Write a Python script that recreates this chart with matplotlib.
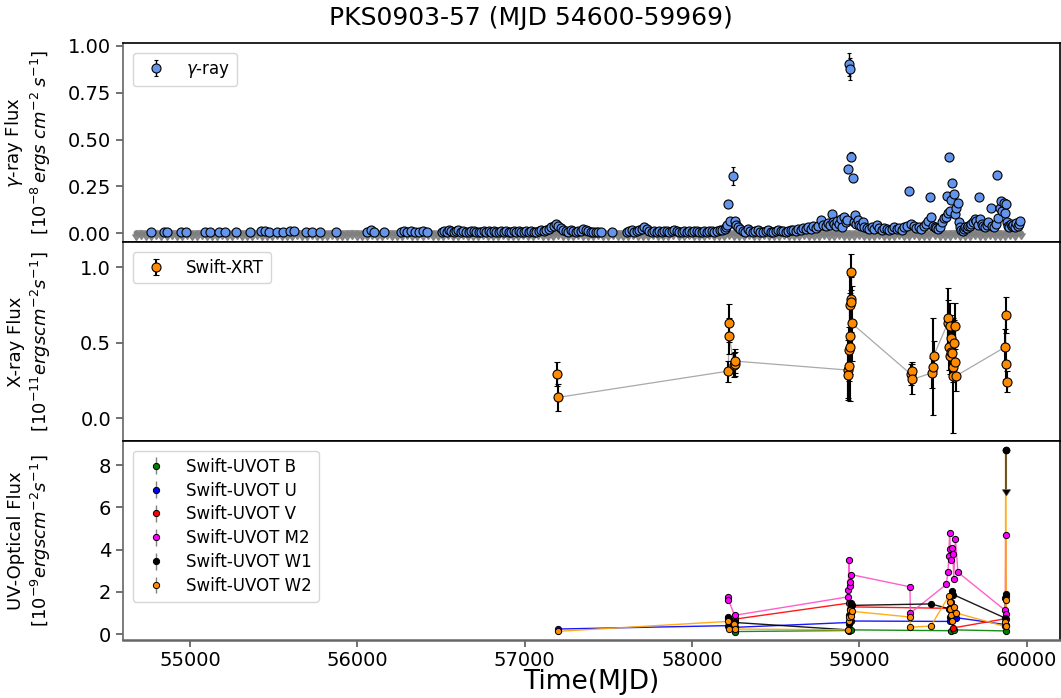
import matplotlib
matplotlib.use("Agg")
import matplotlib.pyplot as plt
import numpy as np

# ---------------- gamma-ray (Fermi-LAT) ----------------
gamma_mjd = [
    54767, 54844, 54862, 54946, 54976, 55090, 55120, 55173, 55209, 55275,
    55359, 55425, 55449, 55473, 55520, 55556, 55598, 55622, 55694, 55730,
    55778, 55873, 56059, 56080, 56100, 56160, 56262, 56280, 56300, 56320,
    56345, 56370, 56390, 56417,
    56507, 56520, 56535, 56550, 56562, 56578, 56592, 56605, 56620, 56635,
    56650, 56665, 56680, 56695, 56710, 56725, 56740, 56755, 56770, 56785,
    56800, 56815, 56830, 56845, 56860, 56875, 56890, 56905, 56920, 56935,
    56950, 56965, 56980, 56995, 57010, 57025, 57040, 57055, 57070, 57085,
    57100, 57115, 57130, 57145, 57160, 57175, 57189, 57200, 57215, 57230,
    57245, 57260, 57275, 57290, 57305, 57320, 57335, 57350, 57365, 57380,
    57395, 57410, 57425, 57440, 57455, 57524,
    57610, 57625, 57640, 57655, 57670, 57685, 57700, 57715, 57730, 57745,
    57760, 57775, 57790, 57805, 57820, 57835, 57850, 57865, 57880, 57895,
    57910, 57925, 57940, 57955, 57970, 57985, 58000, 58015, 58030, 58045,
    58060, 58075, 58090, 58105, 58120, 58135, 58150, 58165, 58180, 58195,
    58205, 58212, 58218, 58230, 58248, 58258, 58265, 58275, 58290, 58305,
    58320, 58335, 58350, 58365, 58380, 58395, 58410, 58425, 58440, 58455,
    58470, 58485, 58500, 58515, 58530, 58545, 58560, 58575, 58590, 58605,
    58620, 58635, 58650, 58665, 58680, 58695, 58710, 58725, 58740, 58755,
    58772, 58785, 58800, 58815, 58825, 58836, 58842, 58850, 58860, 58870,
    58880, 58890, 58900, 58911, 58920, 58928, 58935, 58937, 58944, 58951,
    58961, 58968, 58975, 58982, 58991, 59000, 59010, 59021, 59030, 59045,
    59060, 59075, 59090, 59107, 59120, 59135, 59150, 59165, 59180, 59195,
    59210, 59225, 59240, 59255, 59270, 59285, 59296, 59310, 59325, 59340,
    59355, 59370, 59385, 59400, 59410, 59424, 59430, 59440, 59450, 59460,
    59470, 59480, 59496, 59509, 59518, 59526, 59529, 59535, 59542, 59550,
    59556, 59565, 59572, 59579, 59589, 59595, 59602, 59610, 59618, 59626,
    59634, 59642, 59650, 59660, 59670, 59680, 59690, 59700, 59708, 59715,
    59723, 59732, 59742, 59752, 59762, 59772, 59785, 59795, 59805, 59815,
    59823, 59831, 59839, 59849, 59856, 59863, 59869, 59875, 59882, 59890,
    59898, 59906, 59914, 59922, 59930, 59938, 59946, 59954, 59962,
]
gamma_flux = [
    0.006, 0.008, 0.006, 0.007, 0.007, 0.005, 0.007, 0.006, 0.008, 0.005,
    0.006, 0.010, 0.009, 0.008, 0.006, 0.005, 0.009, 0.011, 0.004, 0.005,
    0.006, 0.006, 0.005, 0.014, 0.008, 0.005, 0.006, 0.012, 0.008, 0.010,
    0.006, 0.007, 0.009, 0.006,
    0.008, 0.012, 0.006, 0.015, 0.010, 0.005, 0.009, 0.018, 0.007, 0.011,
    0.006, 0.004, 0.009, 0.013, 0.006, 0.008, 0.004, 0.010, 0.007, 0.012,
    0.005, 0.009, 0.006, 0.004, 0.011, 0.007, 0.010, 0.005, 0.008, 0.013,
    0.006, 0.009, 0.004, 0.007, 0.010, 0.006, 0.012, 0.008, 0.005, 0.009,
    0.014, 0.010, 0.018, 0.022, 0.030, 0.038, 0.048, 0.035, 0.025, 0.018,
    0.012, 0.008, 0.015, 0.010, 0.006, 0.013, 0.009, 0.020, 0.016, 0.010,
    0.005, 0.008, 0.004, 0.006, 0.005, 0.006,
    0.005, 0.010, 0.015, 0.008, 0.012, 0.018, 0.022, 0.030, 0.020, 0.012,
    0.008, 0.010, 0.006, 0.011, 0.007, 0.009, 0.013, 0.006, 0.010, 0.016,
    0.012, 0.008, 0.005, 0.011, 0.007, 0.010, 0.006, 0.012, 0.009, 0.005,
    0.008, 0.011, 0.006, 0.009, 0.013, 0.008, 0.012, 0.018, 0.015, 0.022,
    0.030, 0.045, 0.155, 0.065, 0.305, 0.062, 0.043, 0.030, 0.022, 0.012,
    0.008, 0.020, 0.010, 0.006, 0.012, 0.016, 0.008, 0.005, 0.010, 0.014,
    0.008, 0.006, 0.011, 0.015, 0.009, 0.012, 0.007, 0.010, 0.014, 0.018,
    0.012, 0.022, 0.016, 0.025, 0.020, 0.030, 0.024, 0.035, 0.028, 0.040,
    0.070, 0.045, 0.038, 0.055, 0.045, 0.100, 0.060, 0.050, 0.040, 0.065,
    0.050, 0.075, 0.034, 0.087, 0.060, 0.070, 0.344, 0.902, 0.877, 0.408,
    0.292, 0.060, 0.096, 0.050, 0.070, 0.045, 0.035, 0.060, 0.030, 0.025,
    0.020, 0.030, 0.022, 0.043, 0.025, 0.018, 0.028, 0.020, 0.015, 0.022,
    0.030, 0.020, 0.025, 0.018, 0.030, 0.040, 0.225, 0.050, 0.035, 0.025,
    0.030, 0.020, 0.035, 0.050, 0.065, 0.190, 0.087, 0.040, 0.030, 0.025,
    0.020, 0.030, 0.060, 0.078, 0.087, 0.198, 0.105, 0.405, 0.120, 0.176,
    0.270, 0.210, 0.100, 0.132, 0.159, 0.060, 0.030, 0.015, 0.012, 0.020,
    0.030, 0.025, 0.040, 0.035, 0.050, 0.060, 0.075, 0.065, 0.045, 0.190,
    0.075, 0.050, 0.035, 0.030, 0.045, 0.060, 0.132, 0.040, 0.030, 0.050,
    0.310, 0.080, 0.132, 0.171, 0.120, 0.162, 0.109, 0.153, 0.060, 0.040,
    0.030, 0.050, 0.035, 0.045, 0.030, 0.055, 0.040, 0.048, 0.064,
]
gamma_peak_err = {58218: 0.012, 58248: 0.05, 58935: 0.022, 58937: 0.06,
                  58944: 0.06, 58951: 0.025, 58961: 0.02, 59296: 0.02,
                  59424: 0.012, 59535: 0.022, 59556: 0.02, 59823: 0.022}
gamma_base_err = 0.006

# gamma-ray upper limits (grey band near zero)
ul_mjd = [
    54680, 54708, 54740, 54768, 54800, 54828, 54860, 54890, 54920, 54950,
    54980, 55010, 55040, 55070, 55100, 55130, 55160, 55190, 55220, 55250,
    55280, 55310, 55340, 55370, 55400, 55430, 55460, 55490, 55520, 55550,
    55580, 55610, 55640, 55670, 55700, 55730, 55760, 55790, 55820, 55850,
    55880, 55910, 55940, 55970, 56000, 56030, 56060, 56090, 56120, 56150,
    56180, 56210, 56240, 56270, 56300, 56330, 56360, 56390, 56420, 56450,
    56480, 56510, 56540, 56570, 56600, 56630, 56660, 56690, 56720, 56750,
    56780, 56810, 56840, 56870, 56900, 56930, 56960, 56990, 57020, 57050,
    57080, 57110, 57140, 57170, 57200, 57230, 57260, 57290, 57320, 57350,
    57380, 57410, 57440, 57470, 57500, 57530, 57560, 57590, 57620, 57650,
    57680, 57710, 57740, 57770, 57800, 57830, 57860, 57890, 57920, 57950,
    57980, 58010, 58040, 58070, 58100, 58130, 58160, 58190, 58220, 58250,
    58280, 58310, 58340, 58370, 58400, 58430, 58460, 58490, 58520, 58550,
    58580, 58610, 58640, 58670, 58700, 58730, 58760, 58790, 58820, 58850,
    58880, 58910, 58940, 58970, 59000, 59030, 59060, 59090, 59120, 59150,
    59180, 59210, 59240, 59270, 59300, 59330, 59360, 59390, 59420, 59450,
    59480, 59510, 59540, 59570, 59600, 59630, 59660, 59690, 59720, 59750,
    59780, 59810, 59840, 59870, 59900, 59930, 59964,
]
ul_flux = [
    0.001, 0.002, 0.000, 0.001, 0.002, 0.001, 0.000, 0.002, 0.001, 0.001,
    0.002, 0.000, 0.001, 0.002, 0.001, 0.000, 0.001, 0.002, 0.001, 0.000,
    0.002, 0.001, 0.001, 0.000, 0.002, 0.001, 0.000, 0.001, 0.002, 0.001,
    0.000, 0.001, 0.002, 0.001, 0.000, 0.002, 0.001, 0.001, 0.000, 0.002,
    0.001, 0.000, 0.001, 0.002, 0.001, 0.000, 0.001, 0.002, 0.001, 0.000,
    0.002, 0.001, 0.001, 0.000, 0.002, 0.001, 0.000, 0.001, 0.002, 0.001,
    0.000, 0.001, 0.002, 0.001, 0.000, 0.002, 0.001, 0.001, 0.000, 0.002,
    0.001, 0.000, 0.001, 0.002, 0.001, 0.000, 0.001, 0.002, 0.001, 0.000,
    0.002, 0.001, 0.001, 0.000, 0.002, 0.001, 0.000, 0.001, 0.002, 0.001,
    0.000, 0.001, 0.002, 0.001, 0.000, 0.002, 0.001, 0.001, 0.000, 0.002,
    0.001, 0.000, 0.001, 0.002, 0.001, 0.000, 0.001, 0.002, 0.001, 0.000,
    0.002, 0.001, 0.001, 0.000, 0.002, 0.001, 0.000, 0.001, 0.002, 0.001,
    0.000, 0.001, 0.002, 0.001, 0.000, 0.002, 0.001, 0.001, 0.000, 0.002,
    0.001, 0.000, 0.001, 0.002, 0.001, 0.000, 0.001, 0.002, 0.001, 0.000,
    0.002, 0.001, 0.001, 0.000, 0.002, 0.001, 0.000, 0.001, 0.002, 0.001,
    0.000, 0.001, 0.002, 0.001, 0.000, 0.002, 0.001, 0.001, 0.000, 0.002,
    0.001, 0.000, 0.001, 0.002, 0.001, 0.000, 0.001, 0.002, 0.001, 0.000,
    0.002, 0.001, 0.001, 0.000, 0.002, 0.001, 0.002,
]

# ---------------- X-ray (Swift-XRT) ----------------
xrt_mjd = [57195, 57201,
           58218, 58221, 58224, 58250, 58255, 58260,
           58930, 58933, 58936, 58939, 58942, 58944, 58946, 58948, 58950, 58952, 58956,
           59310, 59314, 59318,
           59436, 59440, 59444,
           59530, 59533, 59536, 59540, 59543, 59547, 59550, 59554, 59558, 59562,
           59566, 59570, 59575, 59580,
           59872, 59875, 59878, 59881]
xrt_flux = [0.291, 0.137,
            0.311, 0.627, 0.541, 0.351, 0.360, 0.377,
            0.318, 0.285, 0.344, 0.450, 0.470, 0.545, 0.748, 0.969, 0.786, 0.770, 0.627,
            0.289, 0.311, 0.256,
            0.300, 0.340, 0.410,
            0.630, 0.660, 0.470, 0.410, 0.610, 0.440, 0.530, 0.430, 0.340, 0.280,
            0.500, 0.370, 0.610, 0.280,
            0.470, 0.680, 0.360, 0.240]
xrt_err = [0.077, 0.089,
           0.070, 0.126, 0.120, 0.080, 0.080, 0.080,
           0.200, 0.150, 0.100, 0.150, 0.360, 0.250, 0.200, 0.120, 0.150, 0.200, 0.250,
           0.070, 0.060, 0.100,
           0.100, 0.320, 0.100,
           0.150, 0.200, 0.150, 0.120, 0.150, 0.120, 0.150, 0.120, 0.100, 0.380,
           0.150, 0.120, 0.150, 0.100,
           0.120, 0.120, 0.100, 0.070]

# ---------------- UV/optical (Swift-UVOT) ----------------
uvot_B_mjd = [58258, 58940, 58950, 59550, 59565, 59875]
uvot_B_flux = [0.12, 0.17, 0.20, 0.16, 0.20, 0.15]
uvot_U_mjd = [57197, 58215, 58222, 58258, 58938, 58948, 59545, 59552, 59565, 59578, 59875]
uvot_U_flux = [0.24, 0.40, 0.35, 0.32, 0.55, 0.62, 0.60, 0.92, 0.80, 0.78, 0.45]
uvot_V_mjd = [58215, 58258, 58940, 58950, 59545, 59560, 59875]
uvot_V_flux = [0.75, 0.71, 1.47, 1.29, 1.22, 0.29, 0.73]
uvot_M2_mjd = [58215, 58218, 58255, 58930, 58935, 58938, 58942, 58946, 58952,
               59303, 59306, 59520, 59530, 59536, 59540, 59545, 59550, 59555,
               59560, 59565, 59575, 59590, 59873, 59875, 59877]
uvot_M2_flux = [1.76, 1.62, 0.89, 1.76, 2.11, 3.49, 2.30, 2.46, 2.82,
                2.24, 1.00, 2.35, 2.93, 3.70, 4.81, 4.05, 3.50, 4.10,
                3.78, 2.62, 4.52, 2.93, 1.12, 4.70, 0.97]
uvot_W1_mjd = [58215, 58220, 58225, 58250, 58258, 58932, 58936, 58940, 58944,
               58948, 58952, 58956, 59428, 59538, 59545, 59550, 59556, 59563,
               59872, 59874, 59876, 59878]
uvot_W1_flux = [0.80, 0.65, 0.50, 0.45, 0.55, 0.20, 0.50, 0.90, 1.20,
                1.47, 1.00, 1.36, 1.43, 1.20, 0.80, 1.50, 2.03, 1.87,
                0.76, 1.70, 1.80, 1.90]
uvot_W1_ul_mjd = [59875]
uvot_W1_ul_flux = [8.74]
uvot_W2_mjd = [57197, 58215, 58220, 58250, 58258, 58932, 58936, 58940, 58945,
               58950, 58955, 59303, 59306, 59428, 59535, 59540, 59545, 59550,
               59555, 59565, 59580, 59872, 59874, 59875, 59877, 59879]
uvot_W2_flux = [0.13, 0.60, 0.24, 0.48, 0.24, 0.20, 0.60, 0.80, 1.12,
                0.85, 1.08, 0.81, 0.33, 0.38, 1.80, 1.50, 1.20, 0.90,
                0.60, 1.30, 1.00, 0.36, 0.55, 8.74, 1.60, 0.40]

bands = [
    ("Swift-UVOT B", uvot_B_mjd, uvot_B_flux, "green", "green"),
    ("Swift-UVOT U", uvot_U_mjd, uvot_U_flux, "blue", "blue"),
    ("Swift-UVOT V", uvot_V_mjd, uvot_V_flux, "red", "red"),
    ("Swift-UVOT M2", uvot_M2_mjd, uvot_M2_flux, "magenta", "#ff4fc8"),
    ("Swift-UVOT W1", uvot_W1_mjd, uvot_W1_flux, "black", "black"),
    ("Swift-UVOT W2", uvot_W2_mjd, uvot_W2_flux, "darkorange", "orange"),
]

# ---------------- figure ----------------
W, H = 1061, 698
fig = plt.figure(figsize=(W / 100, H / 100), dpi=100)
left = 123 / W
width = (1060 - 123) / W
ph = 199 / H
b3 = (H - 640) / H
ax1 = fig.add_axes([left, b3 + 2 * ph, width, ph])
ax2 = fig.add_axes([left, b3 + ph, width, ph], sharex=ax1)
ax3 = fig.add_axes([left, b3, width, ph], sharex=ax1)

# gamma panel
g_err = [gamma_peak_err.get(t, gamma_base_err) for t in gamma_mjd]
ax1.plot(ul_mjd, ul_flux, '-', color='gray', lw=4, alpha=0.85, zorder=1,
         solid_capstyle='round')
ax1.errorbar(ul_mjd, ul_flux, yerr=0.004, uplims=True, fmt='o', color='gray',
             ms=3, mec='gray', elinewidth=1.2, capsize=0, alpha=0.9, zorder=1)
ax1.errorbar(gamma_mjd, gamma_flux, yerr=g_err, fmt='o', color='cornflowerblue',
             mec='black', mew=0.8, ms=6.5, ecolor='black', elinewidth=1,
             capsize=1.2, label=r'$\gamma$-ray', zorder=3)
ax1.set_ylim(-0.048, 1.016)
ax1.set_yticks([0.0, 0.25, 0.5, 0.75, 1.0])
ax1.set_ylabel("$\\gamma$-ray Flux\n[$10^{-8}\\,ergs\\;cm^{-2}\\;s^{-1}$]", fontsize=13)
ax1.legend(loc='upper left', fontsize=12, handletextpad=0.8, borderaxespad=0.6)

# X-ray panel
ax2.plot(xrt_mjd, xrt_flux, '-', color='darkgray', lw=0.9, zorder=1)
ax2.errorbar(xrt_mjd, xrt_flux, yerr=xrt_err, fmt='o', color='darkorange',
             mec='black', mew=0.8, ms=6.5, ecolor='black', elinewidth=1.5,
             capsize=2, label='Swift-XRT', zorder=3)
ax2.set_ylim(-0.152, 1.166)
ax2.set_yticks([0.0, 0.5, 1.0])
ax2.set_ylabel("X-ray Flux\n[$10^{-11} ergs cm^{-2} s^{-1}$]", fontsize=13)
ax2.legend(loc='upper left', fontsize=12, handletextpad=0.8, borderaxespad=0.6)

# UV/optical panel
for name, t, f, mc, lc in bands:
    ax3.plot(t, f, '-', color=lc, lw=1.0, alpha=0.9, zorder=2)
    ax3.errorbar(t, f, yerr=0.05, fmt='o', color=mc, mec='black', mew=0.7,
                 ms=4.5, ecolor='gray', elinewidth=1, capsize=0,
                 label=name, zorder=3)
ax3.errorbar(uvot_W1_ul_mjd, uvot_W1_ul_flux, yerr=1.87, uplims=True, fmt='o',
             color='black', mec='black', ms=4.5, ecolor=(0.1, 0.05, 0.0, 0.6),
             elinewidth=1.5, capsize=3, zorder=4)
ax3.set_ylim(-0.28, 9.15)
ax3.set_yticks([0, 2, 4, 6, 8])
ax3.set_ylabel("UV-Optical Flux\n[$10^{-9} ergs cm^{-2} s^{-1}$]", fontsize=13)
ax3.legend(loc='upper left', fontsize=12, handletextpad=0.8, labelspacing=0.35,
           borderaxespad=0.6)

ax3.set_xlim(54600, 60200)
ax3.set_xticks([55000, 56000, 57000, 58000, 59000, 60000])
ax3.set_xlabel("Time(MJD)", fontsize=19, labelpad=-1)

for ax in (ax1, ax2, ax3):
    ax.tick_params(axis='y', labelsize=14, length=5, width=1.2, color='0.35')
    ax.yaxis.set_label_coords(-0.075, 0.5)
    for s in ax.spines.values():
        s.set_linewidth(1.2)
    ax.spines['left'].set_color('0.4')
for ax in (ax1, ax2):
    ax.tick_params(axis='x', bottom=False, labelbottom=False)
ax3.tick_params(axis='x', labelsize=14, length=5, width=1.2, color='0.35', pad=3)
ax3.spines['bottom'].set_color('0.4')
ax3.spines['bottom'].set_linewidth(1.8)

fig.suptitle("PKS0903-57 (MJD 54600-59969)", fontsize=18, y=0.992, va='top')

fig.savefig("out.png", dpi=100)
